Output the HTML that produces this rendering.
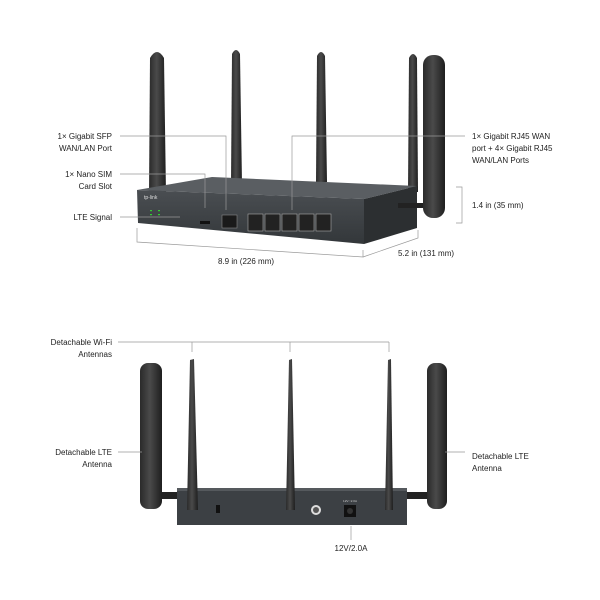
<!DOCTYPE html>
<html><head><meta charset="utf-8"><style>
html,body{margin:0;padding:0;background:#fff}
svg{display:block}
text{font-family:"Liberation Sans",sans-serif;font-size:8px;fill:#222}
</style></head><body>
<svg width="600" height="600" viewBox="0 0 600 600">
<defs>
<linearGradient id="ant" x1="0" x2="1"><stop offset="0" stop-color="#2a2a2a"/><stop offset="0.45" stop-color="#4a4a4a"/><stop offset="1" stop-color="#1e1e1e"/></linearGradient>
<linearGradient id="front" x1="0" y1="0" x2="0" y2="1"><stop offset="0" stop-color="#4a4e52"/><stop offset="1" stop-color="#33373a"/></linearGradient>
</defs>
<!-- TOP DEVICE antennas (behind) -->
<path d="M231,185 L232,54 Q236,46 240,54 L242,185 Z" fill="url(#ant)"/>
<path d="M316,182 L317,56 Q321,48 325,56 L327,182 Z" fill="url(#ant)"/>
<path d="M149,195 L150,58 Q157,46 164,58 L166,195 Z" fill="url(#ant)"/>
<path d="M408,192 L409,58 Q413,50 417,58 L418,192 Z" fill="url(#ant)"/>
<!-- body -->
<polygon points="137,190 212,177 417,186 364,199" fill="#5a5e62"/>
<polygon points="137,190 364,199 364,244 138,223" fill="url(#front)"/>
<polygon points="364,199 417,186 417,228 364,244" fill="#2c2f31"/>
<text x="144" y="199" style="font-size:5px;fill:#ddd">tp-link</text>
<g fill="#3c3">
<rect x="150" y="210" width="2" height="1.2"/><rect x="158" y="210" width="2" height="1.2"/><rect x="150" y="214" width="2" height="1.2"/><rect x="158" y="214" width="2" height="1.2"/>
</g>
<!-- SFP -->
<rect x="222" y="215" width="15" height="13" fill="#1a1a1a" stroke="#888" stroke-width="0.6"/>
<!-- RJ45 -->
<g fill="#222" stroke="#aaa" stroke-width="0.6">
<rect x="248" y="214" width="15" height="17"/><rect x="265" y="214" width="15" height="17"/><rect x="282" y="214" width="15" height="17"/><rect x="299" y="214" width="15" height="17"/><rect x="316" y="214" width="15" height="17"/>
</g>
<rect x="200" y="221" width="10" height="3" fill="#111"/>
<!-- LTE antenna right -->
<rect x="398" y="203" width="26" height="5" fill="#222"/>
<rect x="423" y="55" width="22" height="163" rx="10" fill="url(#ant)"/>
<!-- top callouts -->
<g stroke="#999" stroke-width="0.7" fill="none">
<polyline points="120,136 226,136 226,210"/>
<polyline points="120,174 205,174 205,208"/>
<line x1="120" y1="217" x2="180" y2="217"/>
<polyline points="465,136 292,136 292,210"/>
<polyline points="456,187 462,187 462,223 456,223"/>
<polyline points="137,228 137,242 363,257 363,250"/>
<polyline points="363,257 418,238 418,230"/>
</g>
<g text-anchor="end">
<text x="112" y="139">1× Gigabit SFP</text><text x="112" y="151">WAN/LAN Port</text>
<text x="112" y="177">1× Nano SIM</text><text x="112" y="189">Card Slot</text>
<text x="112" y="220">LTE Signal</text>
</g>
<text x="472" y="139">1× Gigabit RJ45 WAN</text>
<text x="472" y="151">port + 4× Gigabit RJ45</text>
<text x="472" y="163">WAN/LAN Ports</text>
<text x="472" y="208">1.4 in (35 mm)</text>
<text x="218" y="264">8.9 in (226 mm)</text>
<text x="398" y="256">5.2 in (131 mm)</text>
<!-- BOTTOM DEVICE -->
<rect x="160" y="492" width="20" height="7" fill="#222"/>
<rect x="405" y="492" width="24" height="7" fill="#222"/>
<rect x="140" y="363" width="22" height="146" rx="8" fill="url(#ant)"/>
<rect x="427" y="363" width="20" height="146" rx="8" fill="url(#ant)"/>
<rect x="177" y="488" width="230" height="37" fill="#3c4044"/>
<rect x="177" y="488" width="230" height="3" fill="#55595d"/>
<polygon points="187,510 190,360 194,359 198,510" fill="url(#ant)"/>
<polygon points="286,510 289,360 292,359 295,510" fill="url(#ant)"/>
<polygon points="385,510 388,360 391,359 393,510" fill="url(#ant)"/>
<rect x="216" y="505" width="4" height="8" fill="#111"/>
<circle cx="316" cy="510" r="5" fill="#ddd"/><circle cx="316" cy="510" r="3" fill="#555"/>
<rect x="344" y="505" width="12" height="12" fill="#111"/><circle cx="350" cy="511" r="3" fill="#333"/>
<text x="350" y="502" text-anchor="middle" style="font-size:3px;fill:#ccc">12V⎓2.0A</text>
<g stroke="#999" stroke-width="0.7" fill="none">
<polyline points="118,342 389,342"/>
<line x1="192" y1="342" x2="192" y2="352"/><line x1="290" y1="342" x2="290" y2="352"/><line x1="389" y1="342" x2="389" y2="352"/>
<line x1="118" y1="452" x2="142" y2="452"/>
<line x1="445" y1="452" x2="465" y2="452"/>
<line x1="351" y1="526" x2="351" y2="540"/>
</g>
<text x="112" y="345" text-anchor="end">Detachable Wi-Fi</text>
<text x="112" y="357" text-anchor="end">Antennas</text>
<text x="112" y="455" text-anchor="end">Detachable LTE</text>
<text x="112" y="467" text-anchor="end">Antenna</text>
<text x="472" y="459">Detachable LTE</text>
<text x="472" y="471">Antenna</text>
<text x="351" y="551" text-anchor="middle">12V/2.0A</text>
</svg>
</body></html>
